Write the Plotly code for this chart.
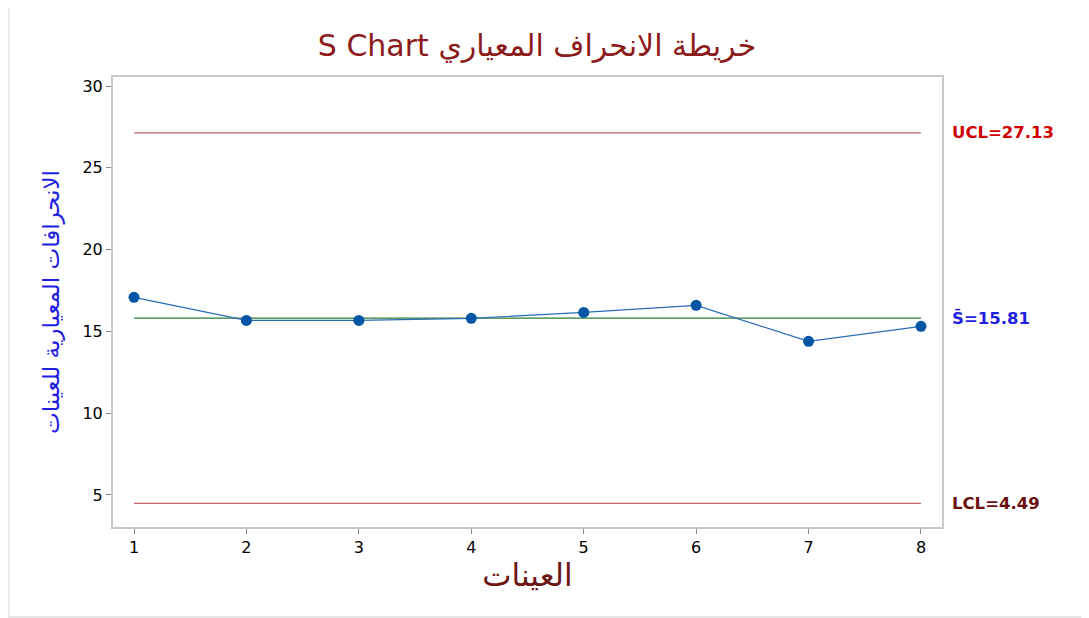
import plotly.graph_objects as go

# sample standard deviations
samples = [1, 2, 3, 4, 5, 6, 7, 8]
std_devs = [17.08, 15.67, 15.67, 15.80, 16.16, 16.59, 14.39, 15.31]

ucl = 27.13
center = 15.81
lcl = 4.49

y_ticks = [5, 10, 15, 20, 25, 30]

# page has an 8px body margin, so the figure is a bit smaller than the window
W, H = 1081, 610
L, T, PW, PH = 105, 69, 829, 450

fig = go.Figure()

# control limits and center line
fig.add_trace(go.Scatter(
    x=[samples[0], samples[-1]], y=[ucl, ucl], mode="lines",
    line=dict(color="#c06868", width=1.3), hoverinfo="skip", showlegend=False,
))
fig.add_trace(go.Scatter(
    x=[samples[0], samples[-1]], y=[lcl, lcl], mode="lines",
    line=dict(color="#c06868", width=1.3), hoverinfo="skip", showlegend=False,
))
fig.add_trace(go.Scatter(
    x=[samples[0], samples[-1]], y=[center, center], mode="lines",
    line=dict(color="#2e7d32", width=1.3), hoverinfo="skip", showlegend=False,
))

fig.add_trace(go.Scatter(
    x=samples, y=std_devs, mode="lines+markers",
    line=dict(color="#2a6cb8", width=1.2),
    marker=dict(color="#0055a5", size=11),
    showlegend=False,
))

label_font = "DejaVu Sans"
lbl_x = 1 + 8 / PW
fig.add_annotation(x=lbl_x, xref="paper", y=ucl, yref="y", xanchor="left",
                   text="<b>UCL=27.13</b>", showarrow=False,
                   font=dict(family=label_font, size=16.5, color="#d00000"))
fig.add_annotation(x=lbl_x, xref="paper", y=center, yref="y", xanchor="left",
                   text="<b>S\u0304=15.81</b>", showarrow=False,
                   font=dict(family=label_font, size=16.5, color="#1f1fe0"))
fig.add_annotation(x=lbl_x, xref="paper", y=lcl, yref="y", xanchor="left",
                   text="<b>LCL=4.49</b>", showarrow=False,
                   font=dict(family=label_font, size=16.5, color="#6b0f0f"))

# light outer frame (left and bottom edges of the picture)
fig.add_shape(type="rect", xref="paper", yref="paper",
              x0=(0.5 - L) / PW, x1=(W + 20 - L) / PW,
              y0=-(H - 1 - T - PH) / PH, y1=1 + (T + 20) / PH,
              line=dict(color="#e6e6e6", width=2), layer="below")

fig.update_layout(
    width=W, height=H,
    margin=dict(l=L, r=W - L - PW, t=T, b=H - T - PH),
    paper_bgcolor="white", plot_bgcolor="white",
    font=dict(family="DejaVu Sans", color="black"),
    title=dict(
        text="S Chart خريطة الانحراف المعياري",
        x=529 / W, xanchor="center", y=1 - 37 / H, yanchor="middle",
        font=dict(size=30, color="#8b1a1a", family="DejaVu Sans"),
    ),
    xaxis=dict(
        range=[0.813, 8.187], tickvals=samples, ticks="outside", ticklen=5,
        tickcolor="#888888", tickfont=dict(size=16, color="black"),
        showgrid=False, zeroline=False,
        showline=True, linecolor="#c8c8c8", linewidth=2, mirror=True,
        title=dict(text="العينات", font=dict(size=31, color="#6b1515"), standoff=8),
    ),
    yaxis=dict(
        range=[3.04, 30.55], tickvals=y_ticks, ticks="outside", ticklen=5,
        tickcolor="#888888", tickfont=dict(size=16, color="black"),
        showgrid=False, zeroline=False,
        showline=True, linecolor="#c8c8c8", linewidth=2, mirror=True,
        title=dict(text="الانحرافات المعيارية للعينات", font=dict(size=23, color="#1f1fe0"), standoff=16),
    ),
)

fig.write_html("out.html")
